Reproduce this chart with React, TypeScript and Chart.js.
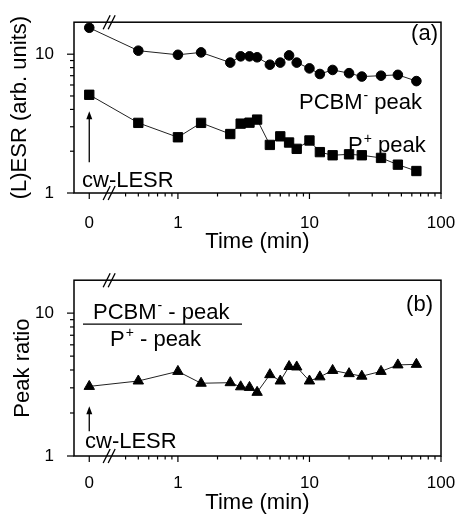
import React, { useEffect, useRef } from "react";
import { Chart, registerables } from "chart.js";

Chart.register(...registerables);

// ---------- data ----------
const timesMin = [0, 0.5, 1, 1.5, 2.5, 3, 3.5, 4, 5, 6, 7, 8, 10, 12, 15, 20, 25, 35, 47, 65];
const pcbmPeak = [15.5, 10.6, 9.9, 10.3, 8.7, 9.65, 9.65, 9.5, 8.4, 8.7, 9.8, 8.7, 7.9, 7.2, 7.7, 7.3, 6.9, 7.0, 7.1, 6.4];
const pPlusPeak = [5.1, 3.2, 2.52, 3.2, 2.66, 3.16, 3.21, 3.38, 2.22, 2.56, 2.31, 2.08, 2.39, 1.97, 1.87, 1.9, 1.87, 1.79, 1.6, 1.44];
const peakRatio = [3.07, 3.35, 3.91, 3.23, 3.26, 3.05, 3.02, 2.79, 3.71, 3.35, 4.23, 4.2, 3.35, 3.58, 3.97, 3.77, 3.62, 3.91, 4.34, 4.38];

const xMajorTicks = [0, 1, 10, 100];
const xMinorTicks = [0.4, 0.5, 0.6, 0.7, 0.8, 0.9, 2, 3, 4, 5, 6, 7, 8, 9, 20, 30, 40, 50, 60, 70, 80, 90];
const yMajorTicks = [1, 10];
const yMinorTicks = [2, 3, 4, 5, 6, 7, 8, 9];

// broken time axis: t = 0 sits left of the break, the rest is log10(t)
const X_ZERO_POS = -0.674;
const X_BREAK_T = 0.3;
const X_AXIS_MIN = -0.79;
const X_AXIS_MAX = 2;
const Y_MIN = 1;
const Y_MAX = 17;

const toAxis = (t: number) => (t === 0 ? X_ZERO_POS : Math.log10(t));

const FONT = "'Liberation Sans', Arial, Helvetica, sans-serif";

type Part = { text: string; sup?: boolean };

function drawRich(ctx: CanvasRenderingContext2D, parts: Part[], x: number, y: number, size = 22) {
  let cx = x;
  for (const p of parts) {
    if (p.sup) {
      ctx.font = `${Math.round(size * 0.62)}px ${FONT}`;
      ctx.fillText(p.text, cx + 1, y - size * 0.42);
      cx += ctx.measureText(p.text).width + 1;
    } else {
      ctx.font = `${size}px ${FONT}`;
      ctx.fillText(p.text, cx, y);
      cx += ctx.measureText(p.text).width;
    }
  }
}

function drawArrow(ctx: CanvasRenderingContext2D, x: number, yFrom: number, yTo: number) {
  ctx.beginPath();
  ctx.lineWidth = 1.3;
  ctx.moveTo(x, yFrom);
  ctx.lineTo(x, yTo + 6);
  ctx.stroke();
  ctx.beginPath();
  ctx.moveTo(x, yTo);
  ctx.lineTo(x - 3, yTo + 8);
  ctx.lineTo(x + 3, yTo + 8);
  ctx.closePath();
  ctx.fill();
}

const frameTicksPlugin = {
  id: "frameTicks",
  afterDraw(chart: any) {
    const { ctx, chartArea: a } = chart;
    const xs = chart.scales.x;
    const ys = chart.scales.y;
    ctx.save();
    ctx.strokeStyle = "#000";
    ctx.fillStyle = "#000";
    ctx.lineWidth = 1.5;
    ctx.strokeRect(a.left, a.top, a.right - a.left, a.bottom - a.top);
    ctx.lineWidth = 1.2;
    const xt = (t: number, len: number) => {
      const px = xs.getPixelForValue(toAxis(t));
      ctx.beginPath();
      ctx.moveTo(px, a.bottom);
      ctx.lineTo(px, a.bottom + len);
      ctx.stroke();
    };
    xMajorTicks.forEach((t) => xt(t, 6));
    xMinorTicks.forEach((t) => xt(t, 3.5));
    const yt = (v: number, len: number) => {
      const py = ys.getPixelForValue(v);
      ctx.beginPath();
      ctx.moveTo(a.left, py);
      ctx.lineTo(a.left - len, py);
      ctx.stroke();
    };
    yMajorTicks.forEach((v) => yt(v, 7));
    yMinorTicks.forEach((v) => yt(v, 4));
    // axis break marks
    const bx = xs.getPixelForValue(toAxis(X_BREAK_T));
    ctx.lineWidth = 1.3;
    for (const yy of [a.top, a.bottom]) {
      for (const dx of [-2.5, 2.5]) {
        ctx.beginPath();
        ctx.moveTo(bx + dx - 3.5, yy + 7);
        ctx.lineTo(bx + dx + 3.5, yy - 7);
        ctx.stroke();
      }
    }
    ctx.restore();
  },
};

function makeAnnotPlugin(panel: "a" | "b") {
  return {
    id: "annot" + panel,
    afterDraw(chart: any) {
      const { ctx, chartArea: a } = chart;
      const x0 = chart.scales.x.getPixelForValue(toAxis(0));
      ctx.save();
      ctx.fillStyle = "#000";
      ctx.strokeStyle = "#000";
      ctx.textBaseline = "alphabetic";
      ctx.textAlign = "left";
      if (panel === "a") {
        ctx.font = `22px ${FONT}`;
        ctx.textAlign = "right";
        ctx.fillText("(a)", a.right - 3, a.top + 18);
        ctx.textAlign = "left";
        drawRich(ctx, [{ text: "PCBM" }, { text: "-", sup: true }, { text: " peak" }], a.left + 225, a.top + 87);
        drawRich(ctx, [{ text: "P" }, { text: "+", sup: true }, { text: " peak" }], a.left + 274, a.top + 130);
        drawRich(ctx, [{ text: "cw-LESR" }], a.left + 8, a.top + 165);
        drawArrow(ctx, x0, a.top + 140, a.top + 89);
      } else {
        ctx.font = `22px ${FONT}`;
        ctx.textAlign = "right";
        ctx.fillText("(b)", a.right - 8, a.top + 31);
        ctx.textAlign = "left";
        drawRich(ctx, [{ text: "PCBM" }, { text: "-", sup: true }, { text: " - peak" }], a.left + 19, a.top + 39);
        ctx.lineWidth = 1.3;
        ctx.beginPath();
        ctx.moveTo(a.left + 9, a.top + 44);
        ctx.lineTo(a.left + 168, a.top + 44);
        ctx.stroke();
        drawRich(ctx, [{ text: "P" }, { text: "+", sup: true }, { text: " - peak" }], a.left + 36, a.top + 66);
        drawRich(ctx, [{ text: "cw-LESR" }], a.left + 11, a.top + 168);
        drawArrow(ctx, x0, a.top + 151, a.top + 126);
      }
      ctx.restore();
    },
  };
}

function series(values: number[], style: string, radius: number) {
  return {
    data: timesMin.map((t, i) => ({ x: toAxis(t), y: values[i] })),
    borderColor: "#222",
    borderWidth: 1,
    backgroundColor: "#000",
    pointBackgroundColor: "#000",
    pointBorderColor: "#000",
    pointBorderWidth: 1,
    pointStyle: style,
    pointRadius: radius,
    tension: 0,
    fill: false,
  };
}

function makeConfig(panel: "a" | "b", datasets: any[], yTitle: string, opts: any) {
  return {
    type: "line",
    data: { datasets },
    options: {
      responsive: false,
      animation: false,
      devicePixelRatio: 1,
      layout: { padding: { left: 0, right: 0, top: opts.padTop, bottom: 0 } },
      plugins: { legend: { display: false }, tooltip: { enabled: false } },
      scales: {
        x: {
          type: "linear",
          min: X_AXIS_MIN,
          max: X_AXIS_MAX,
          grid: { display: false },
          border: { display: false },
          afterBuildTicks: (s: any) => {
            s.ticks = xMajorTicks.map((t) => ({ value: toAxis(t) }));
          },
          afterFit: (s: any) => {
            s.height = opts.xHeight;
            s.paddingRight = 15;
            s.paddingLeft = 0;
          },
          ticks: {
            autoSkip: false,
            maxRotation: 0,
            padding: opts.xTickPad,
            color: "#000",
            font: { family: FONT, size: 17 },
            callback: (_v: any, i: number) => String(xMajorTicks[i]),
          },
          title: {
            display: true,
            text: "Time (min)",
            color: "#000",
            font: { family: FONT, size: 22 },
            padding: { top: 0, bottom: opts.xTitlePad },
          },
        },
        y: {
          type: "logarithmic",
          min: Y_MIN,
          max: Y_MAX,
          grid: { display: false },
          border: { display: false },
          afterBuildTicks: (s: any) => {
            s.ticks = yMajorTicks.map((v) => ({ value: v }));
          },
          afterFit: (s: any) => {
            s.width = 74;
          },
          ticks: {
            autoSkip: false,
            padding: 12,
            color: "#000",
            font: { family: FONT, size: 17 },
            callback: (_v: any, i: number) => String(yMajorTicks[i]),
          },
          title: {
            display: true,
            text: yTitle,
            color: "#000",
            font: { family: FONT, size: 22 },
            padding: { top: opts.yTitlePad, bottom: 0 },
          },
        },
      },
    },
    plugins: [frameTicksPlugin, makeAnnotPlugin(panel)],
  };
}

export default function App() {
  const topRef = useRef<HTMLCanvasElement | null>(null);
  const botRef = useRef<HTMLCanvasElement | null>(null);

  useEffect(() => {
    const c1 = new Chart(
      topRef.current as HTMLCanvasElement,
      makeConfig(
        "a",
        [series(pcbmPeak, "circle", 4.8), series(pPlusPeak, "rect", 6.6)],
        "(L)ESR (arb. units)",
        { padTop: 13, xHeight: 65, xTickPad: 12, xTitlePad: 3, yTitlePad: 7 }
      ) as any
    );
    const c2 = new Chart(
      botRef.current as HTMLCanvasElement,
      makeConfig("b", [series(peakRatio, "triangle", 6)], "Peak ratio", {
        padTop: 16,
        xHeight: 60,
        xTickPad: 9,
        xTitlePad: 0,
        yTitlePad: 10,
      }) as any
    );
    return () => {
      c1.destroy();
      c2.destroy();
    };
  }, []);

  return (
    <div style={{ position: "fixed", left: 0, top: 0, width: 456, height: 516, background: "#fff" }}>
      <canvas ref={topRef} width={456} height={258} style={{ position: "absolute", left: 0, top: 0, display: "block" }} />
      <canvas ref={botRef} width={456} height={258} style={{ position: "absolute", left: 0, top: 258, display: "block" }} />
    </div>
  );
}
